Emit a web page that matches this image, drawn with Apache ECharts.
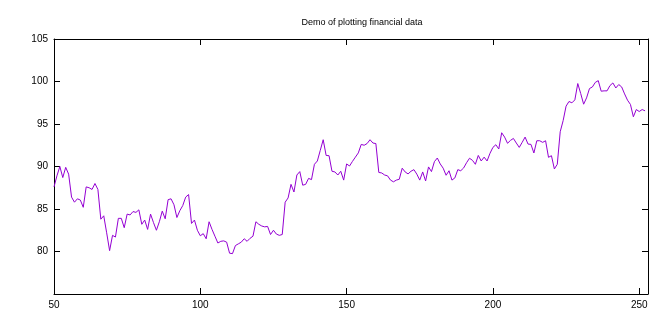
<!DOCTYPE html>
<html>
<head>
<meta charset="utf-8">
<script src="https://cdn.jsdelivr.net/npm/echarts@6/dist/echarts.min.js"></script>
<style>
html,body{margin:0;padding:0;background:#fff;}
#chart{width:660px;height:320px;}
</style>
</head>
<body>
<div id="chart"></div>
<script>
const titleText = "Demo of plotting financial data";
const xTicks = [50, 100, 150, 200, 250];
const yTicks = [75, 80, 85, 90, 95, 100, 105];
const days = [
  50,51,52,53,54,55,56,57,58,59,60,61,62,63,64,65,66,67,68,69,
  70,71,72,73,74,75,76,77,78,79,80,81,82,83,84,85,86,87,88,89,
  90,91,92,93,94,95,96,97,98,99,100,101,102,103,104,105,106,107,108,109,
  110,111,112,113,114,115,116,117,118,119,120,121,122,123,124,125,126,127,128,129,
  130,131,132,133,134,135,136,137,138,139,140,141,142,143,144,145,146,147,148,149,
  150,151,152,153,154,155,156,157,158,159,160,161,162,163,164,165,166,167,168,169,
  170,171,172,173,174,175,176,177,178,179,180,181,182,183,184,185,186,187,188,189,
  190,191,192,193,194,195,196,197,198,199,200,201,202,203,204,205,206,207,208,209,
  210,211,212,213,214,215,216,217,218,219,220,221,222,223,224,225,226,227,228,229,
  230,231,232,233,234,235,236,237,238,239,240,241,242,243,244,245,246,247,248,249,
  250,251,252
];
const prices = [
  87.6,88.9,90.0,88.7,89.9,89.1,86.4,85.8,86.2,86.05,85.2,87.6,87.5,87.3,88.0,87.3,83.8,84.2,82.2,80.1,
  81.9,81.7,83.9,83.9,82.8,84.4,84.3,84.7,84.6,84.9,83.2,83.7,82.6,84.4,83.4,82.5,83.5,84.75,83.85,86.1,
  86.2,85.5,84.0,84.8,85.4,86.4,86.7,83.3,83.7,82.5,81.85,82.1,81.5,83.5,82.6,81.8,81.0,81.2,81.25,81.1,
  79.8,79.75,80.7,80.9,81.1,81.5,81.2,81.55,81.8,83.5,83.2,83.0,82.9,82.95,82.0,82.5,82.05,81.9,82.0,85.8,
  86.3,87.9,87.0,89.0,89.4,87.8,87.9,88.6,88.46,90.26,90.65,91.9,93.15,91.3,91.27,89.44,89.36,89.0,89.44,88.4,
  90.3,90.06,90.6,91.1,91.6,92.6,92.5,92.7,93.15,92.76,92.7,89.3,89.24,89.0,88.9,88.4,88.2,88.4,88.5,89.8,
  89.36,89.13,89.44,89.63,89.1,88.4,89.36,88.3,89.95,89.4,90.57,91.0,90.3,89.8,88.97,89.5,88.4,88.66,89.63,89.5,
  89.83,90.45,90.97,90.73,90.26,91.3,90.65,91.1,90.65,91.55,92.25,92.56,92.06,93.97,93.46,92.73,93.07,93.3,92.76,92.25,
  92.84,93.46,92.64,92.6,91.59,93.03,93.03,92.84,93.03,91.08,91.27,89.71,90.26,94.09,95.4,97.1,97.65,97.49,97.84,99.76,
  98.59,97.33,98.07,99.17,99.36,99.9,100.1,98.86,98.9,98.9,99.52,99.83,99.24,99.64,99.36,98.54,97.8,97.3,95.85,96.7,
  96.47,96.7,96.55
];
const xMin = xTicks[0], xMax = 253, xStep = xTicks[1] - xTicks[0];
const yMin = yTicks[0], yMax = yTicks[yTicks.length - 1], yStep = yTicks[1] - yTicks[0];

const font = "'Liberation Sans', Arial, sans-serif";
const lineSt = { show: true, lineStyle: { color: '#000', width: 1 } };
const tickSt = { show: true, inside: true, length: 6, lineStyle: { color: '#000', width: 1 } };

const chart = echarts.init(document.getElementById('chart'), null, { renderer: 'canvas' });
chart.setOption({
  animation: false,
  backgroundColor: '#fff',
  title: {
    text: titleText,
    left: 357, top: 13,
    textAlign: 'center',
    textStyle: { fontSize: 9, fontWeight: 'normal', color: '#000', fontFamily: font }
  },
  grid: { left: 54, right: 12, top: 39, bottom: 26, containLabel: false },
  xAxis: [
    { type: 'value', position: 'bottom', min: xMin, max: xMax, interval: xStep,
      axisLine: lineSt, axisTick: tickSt, splitLine: { show: false },
      axisLabel: { show: true, color: '#000', fontSize: 10, fontFamily: font, margin: 6,
                   showMaxLabel: false, showMinLabel: true } },
    { type: 'value', position: 'top', min: xMin, max: xMax, interval: xStep,
      axisLine: lineSt, axisTick: tickSt, splitLine: { show: false },
      axisLabel: { show: false } }
  ],
  yAxis: [
    { type: 'value', position: 'left', min: yMin, max: yMax, interval: yStep,
      axisLine: lineSt, axisTick: tickSt, splitLine: { show: false },
      axisLabel: { show: true, color: '#000', fontSize: 10, fontFamily: font, margin: 6,
                   showMinLabel: false } },
    { type: 'value', position: 'right', min: yMin, max: yMax, interval: yStep,
      axisLine: lineSt, axisTick: tickSt, splitLine: { show: false },
      axisLabel: { show: false } }
  ],
  series: [{
    type: 'line',
    xAxisIndex: 0, yAxisIndex: 0,
    data: days.map((d, i) => [d, prices[i]]),
    showSymbol: false,
    symbol: 'none',
    lineStyle: { color: '#9400d3', width: 1 },
    itemStyle: { color: '#9400d3' }
  }]
});
</script>
</body>
</html>
